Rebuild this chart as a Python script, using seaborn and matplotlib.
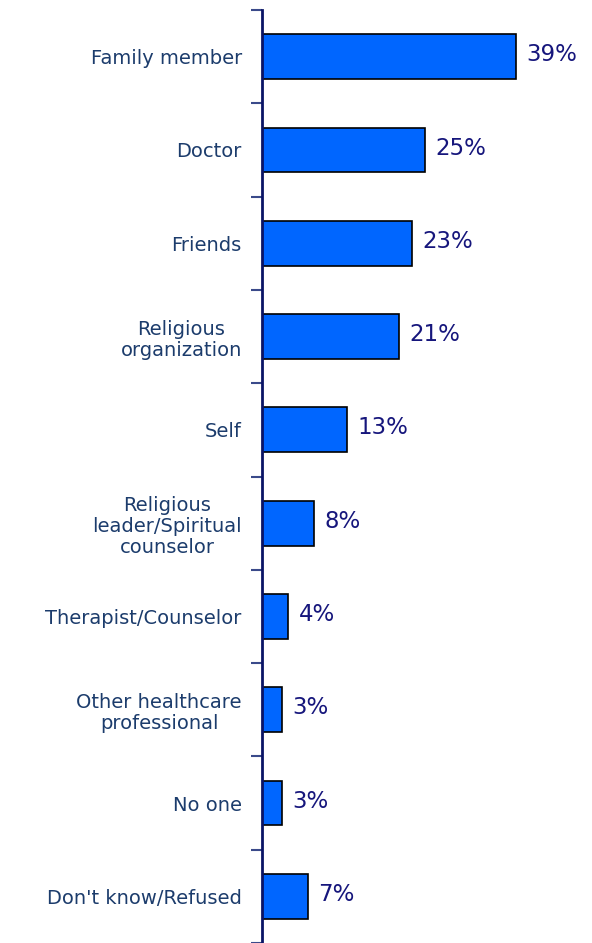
import pandas as pd
import matplotlib.pyplot as plt
import seaborn as sns

# data
categories = ["Family member", "Doctor", "Friends", "Religious\norganization", "Self",
              "Religious\nleader/Spiritual\ncounselor", "Therapist/Counselor",
              "Other healthcare\nprofessional", "No one", "Don't know/Refused"]
values = [39, 25, 23, 21, 13, 8, 4, 3, 3, 7]

df = pd.DataFrame({"cat": categories, "pct": values})

sns.set_style("white")
plt.rcParams["font.family"] = ["DejaVu Sans"]

fig = plt.figure(figsize=(5.92, 9.43), dpi=100)
ax = fig.add_axes([262 / 592, 0, 1 - 262 / 592, 1 - 10 / 943])

sns.barplot(data=df, y="cat", x="pct", orient="h", color="#0066FF",
            saturation=1, edgecolor="black", linewidth=1.2, width=0.48, ax=ax)

ax.set_xlim(0, 50.7)
ax.set_ylim(9.5, -0.5)
ax.set_xlabel("")
ax.set_ylabel("")
ax.set_xticks([])

# category labels at bar centers, tick marks at boundaries
ax.set_yticks(range(len(categories)))
ax.set_yticklabels(categories, fontsize=14, color="#1C3C6C", multialignment="center",
                   linespacing=1.15)
ax.tick_params(axis="y", which="major", length=0, pad=14.5)
ax.set_yticks([i - 0.5 for i in range(len(categories) + 1)], minor=True)
ax.tick_params(axis="y", which="minor", length=8, width=1.5, color="#3A4A8A", left=True)

for s in ["top", "right", "bottom"]:
    ax.spines[s].set_visible(False)
ax.spines["left"].set_color("#0A1466")
ax.spines["left"].set_linewidth(2)

for i, v in enumerate(values):
    ax.text(v + 1.6, i - 0.02, f"{v}%", va="center", ha="left", fontsize=16.5, color="#16167C")

fig.savefig("out.png", dpi=100)
